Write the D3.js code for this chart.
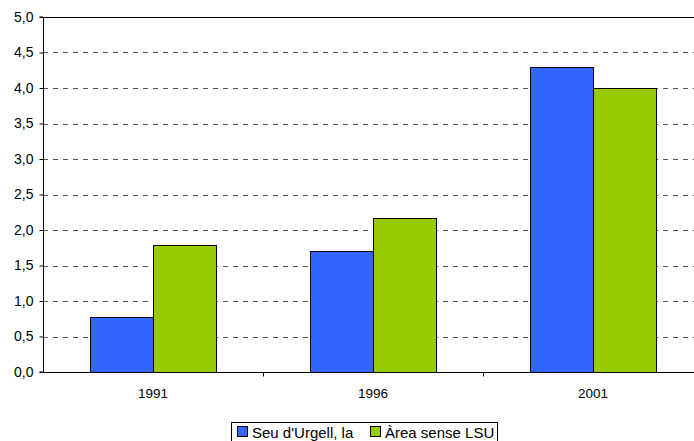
<!DOCTYPE html>
<html><head><meta charset="utf-8">
<script src="https://cdn.jsdelivr.net/npm/d3@7"></script>
<style>body{margin:0;background:#fff}svg{display:block;font-family:"Liberation Sans",Arial,sans-serif}</style>
</head><body>
<script>
const categories = ["1991", "1996", "2001"];
const seriesNames = ["Seu d'Urgell, la", "Àrea sense LSU"];
const seuUrgell = [0.77, 1.71, 4.30];
const areaSenseLSU = [1.79, 2.17, 4.00];
const yTicks = [0, 0.5, 1, 1.5, 2, 2.5, 3, 3.5, 4, 4.5, 5];
const colors = ["#3366FF", "#99CC00"];

(function () {
const W = 694, H = 441;
const svg = d3.select("body").append("svg").attr("width", W).attr("height", H);
const pLeft = 43, pRight = 703, pTop = 17, pBottom = 372;

const x = d3.scaleBand().domain(categories).range([pLeft, pRight]).paddingInner(0).paddingOuter(0);
const inner = d3.scaleBand().domain([0, 1]).range([0, x.bandwidth()]).paddingInner(0).paddingOuter(0.746);
const y = d3.scaleLinear().domain([0, 5]).range([pBottom, pTop]);

// gridlines
svg.append("g").selectAll("line").data(yTicks.filter(d => d > 0 && d < 5)).join("line")
  .attr("x1", pLeft).attr("x2", pRight).attr("y1", d => Math.round(y(d)) + 0.5).attr("y2", d => Math.round(y(d)) + 0.5)
  .attr("stroke", "#555").attr("stroke-dasharray", "5,5").attr("stroke-width", 1);
// top line
svg.append("line").attr("x1", pLeft).attr("x2", pRight).attr("y1", Math.round(y(5)) + 0.5).attr("y2", Math.round(y(5)) + 0.5)
  .attr("stroke", "#000");

// bars
const data = categories.map((c, i) => ({c, v: [seuUrgell[i], areaSenseLSU[i]]}));
const g = svg.append("g");
data.forEach(d => {
  d.v.forEach((v, j) => {
    g.append("rect")
      .attr("x", Math.round(x(d.c) + inner(j)) + 0.5)
      .attr("y", Math.round(y(v)) + 0.5)
      .attr("width", Math.round(inner.bandwidth()))
      .attr("height", Math.round(y(0)) - Math.round(y(v)))
      .attr("fill", colors[j]).attr("stroke", "#000").attr("stroke-width", 1);
  });
});

// y axis
const yAxis = d3.axisLeft(y).tickValues(yTicks).tickSize(4).tickFormat(d => d3.format(".1f")(d).replace(".", ","));
const ya = svg.append("g").attr("transform", `translate(${pLeft + 0.5},0)`).call(yAxis);
ya.select(".domain").attr("d", `M-4,${pTop}H0V${pBottom}H-4`).attr("stroke", "#000");
ya.selectAll(".tick text").attr("font-size", 14).attr("fill", "#000").attr("x", -10);
ya.selectAll(".tick line").attr("stroke", "#000");

// x axis
const xa = svg.append("g").attr("transform", `translate(0,${pBottom + 0.5})`);
xa.append("line").attr("x1", pLeft).attr("x2", pRight).attr("stroke", "#000");
xa.selectAll("line.tk").data(categories.slice(1)).join("line").attr("class", "tk")
  .attr("x1", d => Math.round(x(d)) + 0.5).attr("x2", d => Math.round(x(d)) + 0.5).attr("y1", 0).attr("y2", 4).attr("stroke", "#000");
xa.selectAll("text").data(categories).join("text")
  .attr("x", d => x(d) + x.bandwidth() / 2).attr("y", 25).attr("text-anchor", "middle")
  .attr("font-size", 13.5).attr("fill", "#000").text(d => d);

// legend
const lg = svg.append("g");
lg.append("rect").attr("x", 231.5).attr("y", 422.5).attr("width", 266).attr("height", 22).attr("fill", "#fff").attr("stroke", "#000");
const items = [{x: 237, tx: 252}, {x: 370, tx: 385}];
items.forEach((it, j) => {
  lg.append("rect").attr("x", it.x + 0.5).attr("y", 426.5).attr("width", 10).attr("height", 10).attr("fill", colors[j]).attr("stroke", "#000");
  lg.append("text").attr("x", it.tx).attr("y", 437.5).attr("font-size", 15).attr("fill", "#000").text(seriesNames[j]);
});
})();
</script>
</body></html>
